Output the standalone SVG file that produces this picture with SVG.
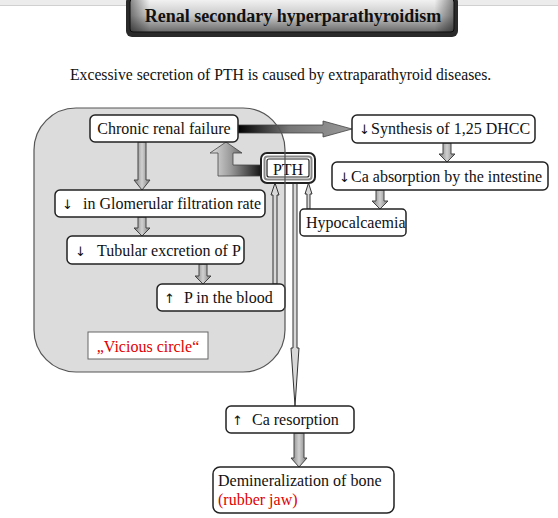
<svg xmlns="http://www.w3.org/2000/svg" width="558" height="518" viewBox="0 0 558 518">
<defs>
<style>
text{font-family:"Liberation Serif","DejaVu Serif",serif;font-size:16px;fill:#111}
.ar{font-family:"DejaVu Sans","Liberation Sans",sans-serif;font-size:13px}
.box{fill:#fff;stroke:#222;stroke-width:1.5}
.blk{fill:url(#gBlk);stroke:#444;stroke-width:1}
.thin{fill:#d8d8d8;stroke:#333;stroke-width:1}
.red{fill:#e00000}
</style>
<linearGradient id="gTitle" x1="0" y1="0" x2="0" y2="1">
<stop offset="0" stop-color="#f4f4f4"/><stop offset="0.5" stop-color="#c8c8c8"/><stop offset="1" stop-color="#6a6a6a"/>
</linearGradient>
<linearGradient id="gTitleSide" x1="0" y1="0" x2="1" y2="0">
<stop offset="0" stop-color="#000" stop-opacity="0.45"/><stop offset="0.06" stop-color="#000" stop-opacity="0"/><stop offset="0.94" stop-color="#000" stop-opacity="0"/><stop offset="1" stop-color="#000" stop-opacity="0.45"/>
</linearGradient>
<linearGradient id="gBlk" x1="0" y1="0" x2="1" y2="0">
<stop offset="0" stop-color="#7a7a7a"/><stop offset="0.5" stop-color="#d0d0d0"/><stop offset="1" stop-color="#7a7a7a"/>
</linearGradient>
<linearGradient id="gRight" gradientUnits="userSpaceOnUse" x1="238" y1="0" x2="352" y2="0">
<stop offset="0" stop-color="#000"/><stop offset="0.45" stop-color="#777"/><stop offset="1" stop-color="#999"/>
</linearGradient>
<linearGradient id="gL" gradientUnits="userSpaceOnUse" x1="210" y1="0" x2="262" y2="0">
<stop offset="0" stop-color="#e0e0e0"/><stop offset="0.4" stop-color="#9a9a9a"/><stop offset="1" stop-color="#111"/>
</linearGradient>
</defs>

<rect x="0" y="0" width="558" height="5" fill="#ececec"/>
<line x1="0" y1="5.5" x2="558" y2="5.5" stroke="#d0d0d0" stroke-width="1"/>

<g id="title">
<rect x="126" y="-4" width="332" height="41" rx="6" fill="#2a2a2a"/>
<rect x="130" y="-1" width="324" height="33" rx="3" fill="url(#gTitle)" stroke="#111" stroke-width="1"/>
<rect x="130" y="-1" width="324" height="33" rx="3" fill="url(#gTitleSide)"/>
<text x="293" y="22" text-anchor="middle" style="font-size:18px;font-weight:bold">Renal secondary hyperparathyroidism</text>
</g>

<text id="subtitle" x="70" y="80" style="font-size:15.7px">Excessive secretion of PTH is caused by extraparathyroid diseases.</text>

<rect id="circle-bg" x="34" y="108" width="251" height="264" rx="42" fill="#dcdcdc" stroke="none"/>

<g id="connectors">
<path class="blk" d="M138,142 V180 H134 L142,190 L150,180 H146 V142 Z"/>
<path class="blk" d="M138,217 V228 H134 L142,236 L150,228 H146 V217 Z"/>
<path class="blk" d="M199,264 V276 H195 L203,284 L211,276 H207 V264 Z"/>
<path class="blk" d="M443,143 V154 H439 L447,162 L455,154 H451 V143 Z"/>
<path class="blk" d="M376,190 V201 H372 L380,209 L388,201 H384 V190 Z"/>
<path class="blk" d="M294,433 V458 H291 L299,467 L307,458 H304 V433 Z"/>
<path d="M238,125 H323 V121 L352,129 L323,137 V133 H238 Z" fill="url(#gRight)" stroke="#444" stroke-width="0.8"/>
<path d="M262,165 H233 V153 H242 L226,142 L210,153 H218 V176 H262 Z" fill="url(#gL)" stroke="#444" stroke-width="0.8"/>
<path class="thin" d="M273,284 V195 H271 L275,183 L279,195 H277 V284 Z"/>
<path class="thin" d="M307,209 V194 H305 L308.5,183 L312,194 H310 V209 Z"/>
<path class="thin" d="M293,183 V348 H291 L295,406 L299,348 H297 V183 Z"/>
</g>

<g id="crf"><rect class="box" x="90" y="115" width="148" height="27" rx="5"/><text x="164" y="134" text-anchor="middle">Chronic renal failure</text></g>
<g id="gfr"><rect class="box" x="55" y="190" width="210" height="27" rx="5"/><text y="209"><tspan class="ar" x="62">↓</tspan><tspan x="83">in Glomerular filtration rate</tspan></text></g>
<g id="tubular"><rect class="box" x="67" y="236" width="177" height="28" rx="5"/><text y="256"><tspan class="ar" x="75">↓</tspan><tspan x="97">Tubular excretion of P</tspan></text></g>
<g id="pblood"><rect class="box" x="157" y="284" width="128" height="27" rx="5"/><text y="303"><tspan class="ar" x="164">↑</tspan><tspan x="184">P in the blood</tspan></text></g>
<g id="vicious"><rect x="88" y="332" width="120" height="27" fill="#fff" stroke="#666" stroke-width="1"/><text class="red" x="148" y="352" text-anchor="middle">„Vicious circle“</text></g>

<g id="pth">
<rect x="261" y="153" width="54" height="30" rx="6" fill="#fff" stroke="#222" stroke-width="2"/>
<rect x="264.5" y="156.5" width="47" height="23" rx="3" fill="none" stroke="#888" stroke-width="2"/>
<rect x="267" y="159" width="42" height="18" rx="2" fill="#fff" stroke="#222" stroke-width="1.2"/>
<text x="288" y="175" text-anchor="middle">PTH</text>
</g>

<rect id="circle-edge" x="34" y="108" width="251" height="264" rx="42" fill="none" stroke="#555" stroke-width="1.2"/>

<g id="synthesis"><rect class="box" x="352" y="115" width="183" height="28" rx="5"/><text y="134"><tspan class="ar" x="359">↓</tspan><tspan x="371">Synthesis of 1,25 DHCC</tspan></text></g>
<g id="caabs"><rect class="box" x="332" y="162" width="216" height="28" rx="5"/><text y="182"><tspan class="ar" x="339">↓</tspan><tspan x="351">Ca absorption by the intestine</tspan></text></g>
<g id="hypo"><rect class="box" x="300" y="209" width="106" height="27" rx="4"/><text x="306" y="228">Hypocalcaemia</text></g>
<g id="cares"><rect class="box" x="226" y="406" width="128" height="27" rx="5"/><text y="425"><tspan class="ar" x="232">↑</tspan><tspan x="252">Ca resorption</tspan></text></g>
<g id="demin"><rect class="box" x="213" y="467" width="181" height="46" rx="7"/><text x="218" y="486">Demineralization of bone</text><text class="red" x="218" y="505">(rubber jaw)</text></g>
</svg>
